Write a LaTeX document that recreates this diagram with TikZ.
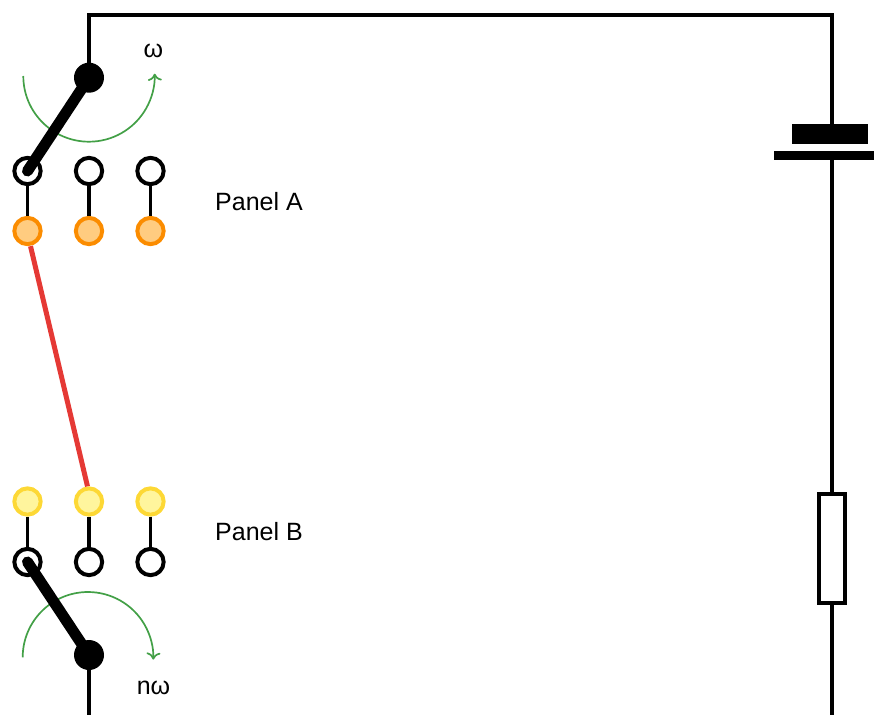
\documentclass[tikz,border=0pt]{standalone}
\usepackage{fontspec}
\setmainfont{Liberation Sans}
\usetikzlibrary{positioning, arrows, arrows.meta, calc}
\definecolor{wirered}{HTML}{E53935}
\definecolor{arcgreen}{HTML}{43A047}
\definecolor{orangeline}{HTML}{FB8C00}
\definecolor{orangefill}{HTML}{FFCC80}
\definecolor{yellowline}{HTML}{FDD835}
\definecolor{yellowfill}{HTML}{FFF59D}

\begin{document}
\begin{tikzpicture}[x=1pt, y=-1pt,
    wire/.style={line width=4pt},
    thinwire/.style={line width=3.5pt},
    lever/.style={line width=11pt, line cap=round},
    rotation/.style={arcgreen, line width=1.7pt, -{To[length=7pt, width=14pt]}},
    contact/.style={circle, draw=black, fill=white, line width=4pt, minimum size=26.3pt, inner sep=0pt},
    brushA/.style={contact, draw=orangeline, fill=orangefill},
    brushB/.style={contact, draw=yellowline, fill=yellowfill},
    hub/.style={circle, fill=black, minimum size=30pt, inner sep=0pt},
    plate/.style={rectangle, fill=black, inner sep=0pt},
    label/.style={font=\fontsize{25}{29}\selectfont, inner sep=0pt},
    omega/.style={font=\fontsize{25}{29}\selectfont, inner sep=0pt}]
  \useasboundingbox (0,0) rectangle (874,715);

  % panels
  \foreach \i/\x in {1/27.5, 2/89, 3/150.5} {
    \node[brushA] (A\i) at (\x, 231) {};
    \node[contact] (a\i) at (\x, 171) {};
    \draw[thinwire] (a\i) -- (A\i);
    \node[brushB] (B\i) at (\x, 501.5) {};
    \node[contact] (b\i) at (\x, 562) {};
    \draw[thinwire] (B\i) -- (b\i);
  }
  \node[label, anchor=west] (panelA) at (215, 201.5) {Panel A};
  \node[label, anchor=west] (panelB) at (215, 531.5) {Panel B};

  % link between panels
  \draw[wirered, line width=5pt] ([xshift=3pt]A1.south) -- ([xshift=-1.5pt]B2.north);

  % rotating arms
  \node[hub] (hubA) at (89, 77.7) {};
  \node[hub] (hubB) at (89, 655) {};
  \coordinate (startA) at (23.3, 76);
  \coordinate (startB) at (22.7, 657.3);
  \draw[rotation] (startA) arc[start angle=180, end angle=362, radius=65.7pt];
  \draw[rotation] (startB) arc[start angle=180, end angle=-2, radius=65.3pt];
  \draw[lever] (hubA.center) -- (a1.center);
  \draw[lever] (hubB.center) -- (b1.center);
  \node[omega] (wA) at (153.5, 51) {ω};
  \node[omega] (wB) at (153.5, 687.5) {nω};

  % battery and load
  \coordinate (corner) at (832, 14.7);
  \coordinate (cornerA) at (89, 14.7);
  \coordinate (endA) at (89, 715);
  \coordinate (endB) at (832, 715);
  \node[plate, minimum width=75.4pt, minimum height=19.3pt] (plus) at (830, 134) {};
  \node[plate, minimum width=101pt, minimum height=9.3pt] (minus) at (824.2, 155.4) {};
  \node[rectangle, draw=black, fill=white, line width=4pt, inner sep=0pt, minimum width=26.6pt, minimum height=108.7pt] (load) at (832, 548.3) {};

  \draw[wire, line join=miter] (hubA) -- (cornerA) -- (corner) -- (plus.north -| corner);
  \draw[wire] (minus.south -| corner) -- (load.north);
  \draw[wire] (load.south) -- (endB);
  \draw[wire] (hubB) -- (endA);
\end{tikzpicture}
\end{document}
